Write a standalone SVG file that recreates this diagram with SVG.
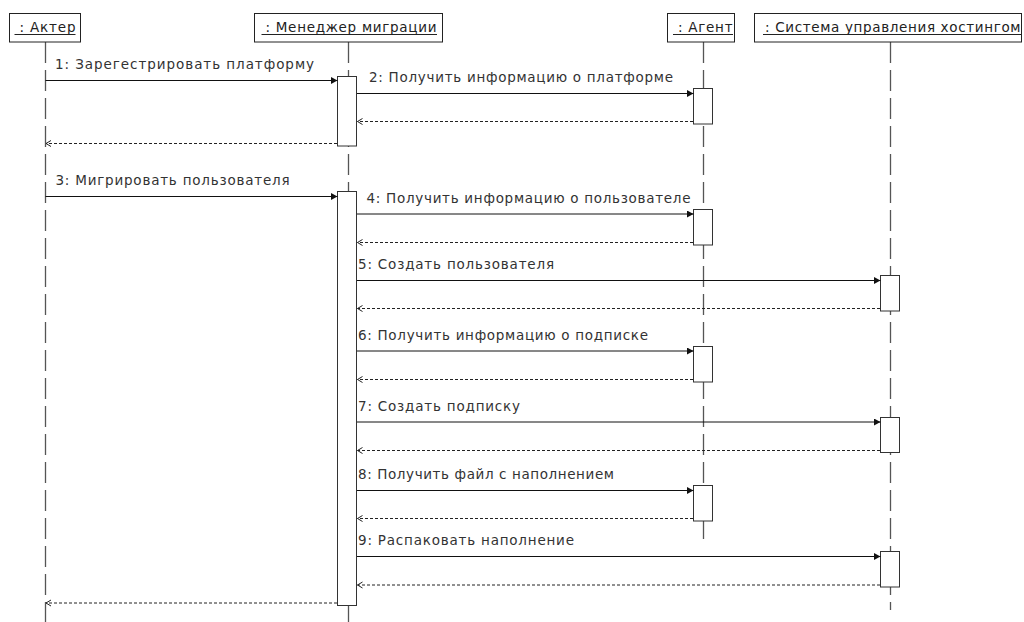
<svg xmlns="http://www.w3.org/2000/svg" width="1024" height="622" viewBox="0 0 1024 622">
<style>
.hdr{fill:#fff;stroke:#222;stroke-width:1}
.ht{font-family:"DejaVu Sans",sans-serif;font-size:13.5px;fill:#222}
.ul{stroke:#222;stroke-width:1}
.life{stroke:#555;stroke-width:1.3;stroke-dasharray:21 7;fill:none}
.act{fill:#fff;stroke:#333;stroke-width:1}
.msg{stroke:#111;stroke-width:1;fill:none;marker-end:url(#fa)}
.ret{stroke:#222;stroke-width:1;fill:none;stroke-dasharray:3 2;marker-end:url(#oa)}
.lbl{font-family:"DejaVu Sans",sans-serif;font-size:13.5px;fill:#333}
</style>
<defs>
<marker id="fa" markerUnits="userSpaceOnUse" markerWidth="8" markerHeight="8" refX="6.5" refY="3.5" orient="auto"><path d="M0,0 L6.5,3.5 L0,7 z" fill="#111"/></marker>
<marker id="oa" markerUnits="userSpaceOnUse" markerWidth="7" markerHeight="8" refX="5" refY="3.5" orient="auto"><path d="M0,0.5 L5,3.5 L0,6.5" fill="none" stroke="#222" stroke-width="1"/></marker>
</defs>
<rect width="1024" height="622" fill="#fff"/>

<g id="lifelines">
<line class="life" x1="45.5" y1="42" x2="45.5" y2="622"/>
<line class="life" x1="348.5" y1="42" x2="348.5" y2="622"/>
<line class="life" x1="703.5" y1="42" x2="703.5" y2="544"/>
<line class="life" x1="890.5" y1="42" x2="890.5" y2="610"/>
</g>

<g id="actor">
<rect class="hdr" x="9.5" y="13.5" width="71" height="28.5"/>
<text class="ht" x="19.5" y="32" textLength="56">: Актер</text>
<line class="ul" x1="14.5" y1="34.5" x2="75.5" y2="34.5"/>
</g>
<g id="manager">
<rect class="hdr" x="254.5" y="13.5" width="188" height="28.5"/>
<text class="ht" x="265.5" y="32" textLength="171">: Менеджер миграции</text>
<line class="ul" x1="261.5" y1="34.5" x2="437" y2="34.5"/>
<rect class="act" x="337.5" y="76.5" width="19" height="69.5"/>
<rect class="act" x="337.5" y="191.5" width="19" height="414"/>
</g>
<g id="agent">
<rect class="hdr" x="667.5" y="13.5" width="67" height="28.5"/>
<text class="ht" x="678" y="32" textLength="54.5">: Агент</text>
<line class="ul" x1="673" y1="34.5" x2="733" y2="34.5"/>
<rect class="act" x="693.5" y="88.5" width="19" height="35.5"/>
<rect class="act" x="693.5" y="209.5" width="19" height="35.5"/>
<rect class="act" x="693.5" y="346.5" width="19" height="35.5"/>
<rect class="act" x="693.5" y="485.5" width="19" height="35.5"/>
</g>
<g id="hosting">
<rect class="hdr" x="754.5" y="13.5" width="267" height="28.5"/>
<text class="ht" x="765" y="32" textLength="255.5">: Система управления хостингом</text>
<line class="ul" x1="763" y1="34.5" x2="1021" y2="34.5"/>
<rect class="act" x="880.5" y="275.5" width="19" height="35.5"/>
<rect class="act" x="880.5" y="417.5" width="19" height="35"/>
<rect class="act" x="880.5" y="551.5" width="19" height="35.5"/>
</g>

<g id="connectors">
<line class="msg" x1="45.5" y1="80.5" x2="337.5" y2="80.5"/>
<line class="msg" x1="357" y1="93.5" x2="693.5" y2="93.5"/>
<line class="ret" x1="693" y1="121.5" x2="357.5" y2="121.5"/>
<line class="ret" x1="337" y1="143.5" x2="46" y2="143.5"/>
<line class="msg" x1="45.5" y1="196.5" x2="337.5" y2="196.5"/>
<line class="msg" x1="357" y1="214" x2="693.5" y2="214"/>
<line class="ret" x1="693" y1="242.5" x2="357.5" y2="242.5"/>
<line class="msg" x1="357" y1="280.5" x2="880.5" y2="280.5"/>
<line class="ret" x1="880" y1="308.5" x2="357.5" y2="308.5"/>
<line class="msg" x1="357" y1="351" x2="693.5" y2="351"/>
<line class="ret" x1="693" y1="379.5" x2="357.5" y2="379.5"/>
<line class="msg" x1="357" y1="422" x2="880.5" y2="422"/>
<line class="ret" x1="880" y1="450.5" x2="357.5" y2="450.5"/>
<line class="msg" x1="357" y1="490.5" x2="693.5" y2="490.5"/>
<line class="ret" x1="693" y1="518.5" x2="357.5" y2="518.5"/>
<line class="msg" x1="357" y1="556.5" x2="880.5" y2="556.5"/>
<line class="ret" x1="880" y1="585" x2="357.5" y2="585"/>
<line class="ret" x1="337" y1="603" x2="46" y2="603"/>
</g>

<g id="labels">
<text class="lbl" x="55" y="69" textLength="259">1: Зарегестрировать платформу</text>
<text class="lbl" x="369" y="82" textLength="304">2: Получить информацию о платформе</text>
<text class="lbl" x="55.5" y="185" textLength="234">3: Мигрировать пользователя</text>
<text class="lbl" x="366.5" y="202.5" textLength="324">4: Получить информацию о пользователе</text>
<text class="lbl" x="358" y="269" textLength="196">5: Создать пользователя</text>
<text class="lbl" x="358" y="339.5" textLength="290">6: Получить информацию о подписке</text>
<text class="lbl" x="358" y="410.5" textLength="162">7: Создать подписку</text>
<text class="lbl" x="358" y="479" textLength="256">8: Получить файл с наполнением</text>
<text class="lbl" x="358" y="545" textLength="216">9: Распаковать наполнение</text>
</g>
</svg>
